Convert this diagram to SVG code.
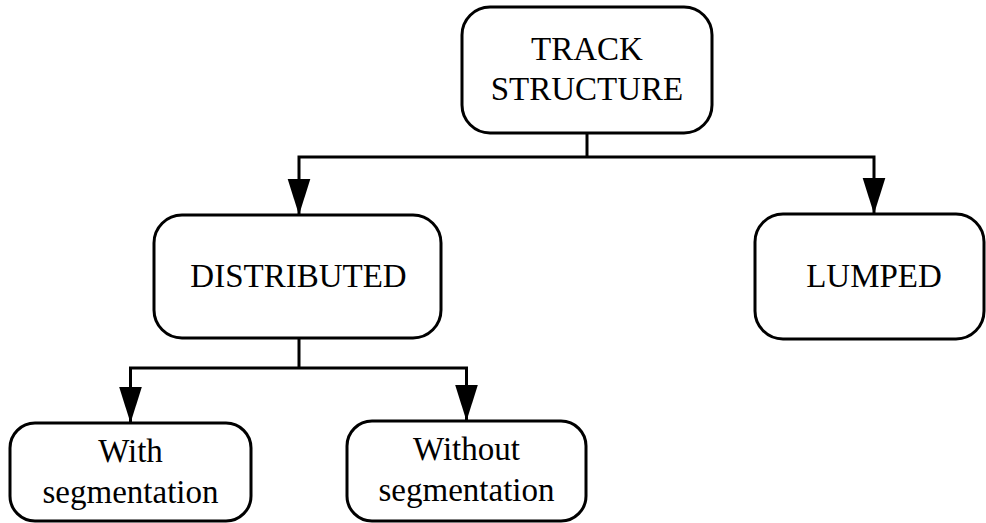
<svg xmlns="http://www.w3.org/2000/svg" width="986" height="523" viewBox="0 0 986 523">
  <style>
    .box { fill: #ffffff; stroke: #000000; stroke-width: 3; }
    .wire { fill: none; stroke: #000000; stroke-width: 3; }
    .label { font-family: "Liberation Serif", "Times New Roman", serif; font-size: 33px; fill: #000000; text-anchor: middle; }
  </style>
  <defs>
    <marker id="arrow" markerUnits="userSpaceOnUse" markerWidth="24" markerHeight="36" viewBox="0 0 22 35" refX="22" refY="11" orient="auto">
      <path d="M0,0 L35,11 L0,22 Z" transform="translate(0,0)" fill="#000000"/>
    </marker>
    <marker id="head" markerUnits="userSpaceOnUse" markerWidth="36" markerHeight="24" viewBox="0 0 35 22" refX="35" refY="11" orient="auto">
      <path d="M0,0 L35,11 L0,22 Z" fill="#000000"/>
    </marker>
  </defs>

  <g id="connectors">
    <path class="wire" d="M587 133 V157"/>
    <path class="wire" d="M587 157 H299 V215" marker-end="url(#head)"/>
    <path class="wire" d="M587 157 H874 V214" marker-end="url(#head)"/>
    <path class="wire" d="M299 338 V368"/>
    <path class="wire" d="M299 368 H130.5 V423" marker-end="url(#head)"/>
    <path class="wire" d="M299 368 H466.5 V421" marker-end="url(#head)"/>
  </g>

  <g id="track-structure">
    <rect class="box" x="462" y="7" width="250" height="126" rx="28" ry="28"/>
    <text class="label" x="587" y="60">TRACK</text>
    <text class="label" x="587" y="100">STRUCTURE</text>
  </g>

  <g id="distributed">
    <rect class="box" x="154" y="215" width="287" height="123" rx="28" ry="28"/>
    <text class="label" x="298.5" y="287">DISTRIBUTED</text>
  </g>

  <g id="lumped">
    <rect class="box" x="755" y="214" width="229" height="125" rx="28" ry="28"/>
    <text class="label" x="874" y="287">LUMPED</text>
  </g>

  <g id="with-segmentation">
    <rect class="box" x="10" y="423" width="241" height="98" rx="25" ry="25"/>
    <text class="label" x="130.5" y="462">With</text>
    <text class="label" x="130.5" y="503">segmentation</text>
  </g>

  <g id="without-segmentation">
    <rect class="box" x="347" y="421" width="239" height="100" rx="25" ry="25"/>
    <text class="label" x="466.5" y="460">Without</text>
    <text class="label" x="466.5" y="501">segmentation</text>
  </g>
</svg>
